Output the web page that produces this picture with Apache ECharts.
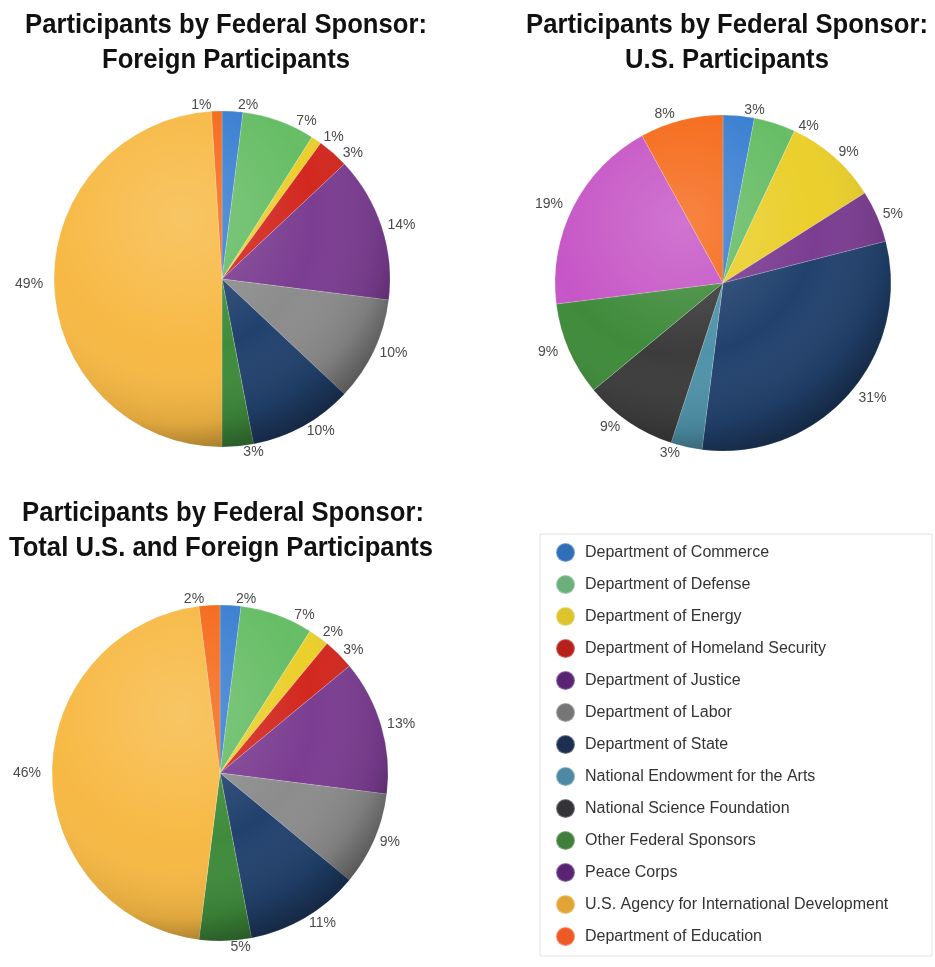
<!DOCTYPE html>
<html>
<head>
<meta charset="utf-8">
<script src="https://cdn.jsdelivr.net/npm/echarts@6/dist/echarts.min.js"></script>
<style>
  html, body { margin: 0; padding: 0; background: #fff; }
  #main { width: 935px; height: 967px; }
</style>
</head>
<body>
<div id="main"></div>
<script>
// sponsors, in legend order
const sponsors = [
  'Department of Commerce',
  'Department of Defense',
  'Department of Energy',
  'Department of Homeland Security',
  'Department of Justice',
  'Department of Labor',
  'Department of State',
  'National Endowment for the Arts',
  'National Science Foundation',
  'Other Federal Sponsors',
  'Peace Corps',
  'U.S. Agency for International Development',
  'Department of Education'
]
// percentages per pie (0 = not shown)
const foreignPct = [2, 7, 1, 3, 14, 10, 10, 0, 0, 3, 0, 49, 1]
const usPct      = [3, 4, 9, 0, 5, 0, 31, 3, 9, 9, 19, 0, 8]
const totalPct   = [2, 7, 2, 3, 13, 9, 11, 0, 0, 5, 0, 46, 2]

const titleLine1 = 'Participants by Federal Sponsor:'
const subTitles = ['Foreign Participants', 'U.S. Participants', 'Total U.S. and Foreign Participants']

const sliceColors = ['#3b7fd1', '#67bd66', '#ebcf2c', '#d2281f', '#7b3d91', '#8c8c8c',
  '#22426e', '#4f93aa', '#3c3c3c', '#3f8b3b', '#c656c6', '#f7b944', '#f56a1a']
const legendColors = ['#2f6fb8', '#6bb07a', '#dcc42c', '#b8201c', '#5a2475', '#767676',
  '#1d2f50', '#4d89a3', '#333338', '#3f7f3a', '#5a2475', '#e2a433', '#ee5a24']

let bodyFont = '"Liberation Sans", Arial, sans-serif'

function buildData(pct) {
  let arr = []
  pct.forEach((v, i) => {
    if (v > 0) arr.push({ name: sponsors[i], value: v, itemStyle: { color: sliceColors[i] } })
  })
  return arr
}

function pieSeries(pct, center) {
  return {
    type: 'pie',
    center: center,
    radius: 168,
    startAngle: 90,
    clockwise: true,
    avoidLabelOverlap: true,
    data: buildData(pct),
    itemStyle: { borderColor: 'rgba(255,255,255,0.35)', borderWidth: 0.5 },
    label: {
      show: true,
      position: 'outside',
      formatter: '{c}%',
      color: '#4a4a4a',
      fontFamily: bodyFont,
      fontSize: 14
    },
    labelLine: { show: false, length: 6, length2: 0 },
    emphasis: { scale: false }
  }
}

// shading on top of each pie, gives the round look
function shade(center) {
  return {
    type: 'pie',
    center: center,
    radius: 168,
    silent: true,
    z: 5,
    label: { show: false },
    labelLine: { show: false },
    data: [{
      value: 1,
      name: 'shade',
      itemStyle: {
        color: {
          type: 'radial', x: 0.38, y: 0.32, r: 0.72,
          colorStops: [
            { offset: 0, color: 'rgba(255,255,255,0.18)' },
            { offset: 0.55, color: 'rgba(255,255,255,0)' },
            { offset: 0.85, color: 'rgba(0,0,0,0.1)' },
            { offset: 1, color: 'rgba(0,0,0,0.4)' }
          ]
        }
      }
    }]
  }
}

let centers = [[222, 279], [723, 283], [220, 773]]

// title text, slightly squeezed like the narrow font of the original
function titleText(str, x, y) {
  return {
    type: 'text',
    x: x, y: y,
    scaleX: 0.95,
    style: {
      text: str,
      font: 'bold 27px "Liberation Sans", Arial, sans-serif',
      fill: '#111',
      textAlign: 'center',
      textVerticalAlign: 'middle'
    }
  }
}

let myChart = echarts.init(document.getElementById('main'))
myChart.setOption({
  animation: false,
  legend: {
    orient: 'vertical',
    left: 550,
    top: 537,
    height: 440,
    icon: 'circle',
    itemWidth: 19,
    itemHeight: 19,
    itemGap: 11,
    selectedMode: false,
    textStyle: { fontFamily: bodyFont, fontSize: 16, color: '#333', padding: [0, 0, 0, 5], lineHeight: 19 },
    data: sponsors.map((s, i) => ({ name: s, itemStyle: { color: legendColors[i] } }))
  },
  graphic: [
    titleText(titleLine1, 226, 26), titleText(subTitles[0], 226, 61),
    titleText(titleLine1, 727, 26), titleText(subTitles[1], 727, 61),
    titleText(titleLine1, 223, 514), titleText(subTitles[2], 221, 549),
    {
      type: 'rect',
      shape: { x: 540, y: 534, width: 392, height: 422 },
      style: { fill: 'none', stroke: '#e2e2e2', lineWidth: 1 }
    }
  ],
  series: [
    pieSeries(foreignPct, centers[0]), shade(centers[0]),
    pieSeries(usPct, centers[1]), shade(centers[1]),
    pieSeries(totalPct, centers[2]), shade(centers[2])
  ]
})
</script>
</body>
</html>
